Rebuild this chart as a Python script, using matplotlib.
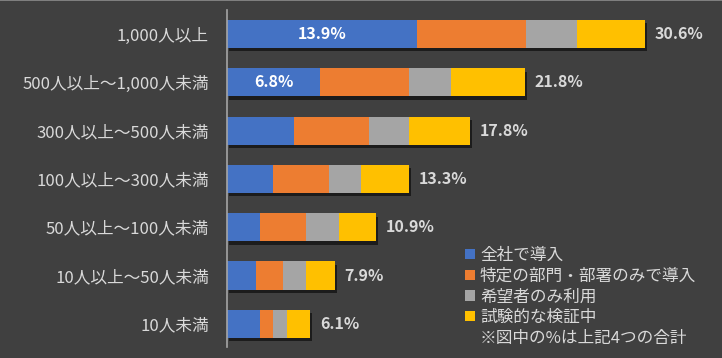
import matplotlib
matplotlib.use("Agg")
import matplotlib.pyplot as plt
import matplotlib.patheffects as pe
from matplotlib.patches import Patch
from matplotlib.lines import Line2D

plt.rcParams['font.family'] = ['Noto Sans CJK JP', 'DejaVu Sans']

# データ（上から順）
categories = ["1,000人以上", "500人以上～1,000人未満", "300人以上～500人未満",
              "100人以上～300人未満", "50人以上～100人未満", "10人以上～50人未満",
              "10人未満"]
zensha = [13.9, 6.8, 4.9, 3.4, 2.4, 2.1, 2.4]
bumon = [8.0, 6.5, 5.5, 4.1, 3.4, 2.0, 1.0]
kibou = [3.7, 3.1, 2.9, 2.3, 2.4, 1.7, 1.0]
shiken = [5.0, 5.4, 4.5, 3.5, 2.7, 2.1, 1.7]
totals = [30.6, 21.8, 17.8, 13.3, 10.9, 7.9, 6.1]
inside_labels = ["13.9%", "6.8%", "", "", "", "", ""]

series_names = ["全社で導入", "特定の部門・部署のみで導入", "希望者のみ利用", "試験的な検証中"]
colors = ["#4472C4", "#ED7D31", "#A5A5A5", "#FFC000"]
note = "※図中の%は上記4つの合計"

BG = "#404040"
TXT = "#D9D9D9"

fig = plt.figure(figsize=(7.22, 3.58), dpi=100, facecolor=BG)
ax = fig.add_axes([227 / 722, 11 / 358, 495 / 722, 337 / 358], facecolor=BG)

y = list(range(len(categories)))
left = [0.0] * len(categories)
shadow = [pe.SimplePatchShadow(offset=(1.5, -2.5), shadow_rgbFace="black", alpha=0.55),
          pe.Normal()]
for vals, col in zip([zensha, bumon, kibou, shiken], colors):
    bars = ax.barh(y, vals, left=left, height=0.58, color=col, linewidth=0)
    for b in bars:
        b.set_path_effects(shadow)
    left = [l + v for l, v in zip(left, vals)]

for i, lab in enumerate(inside_labels):
    if lab:
        ax.text(zensha[i] / 2, i, lab, ha="center", va="center", color="white",
                fontsize=11.5, fontweight="bold")

for i, t in enumerate(totals):
    ax.annotate(f"{t}%", xy=(left[i], i), xytext=(7, 0), textcoords="offset points",
                ha="left", va="center", color=TXT, fontsize=11.5, fontweight="bold")

ax.set_xlim(0, 495 / 13.66)
ax.set_ylim(-0.497 + 337 / 48.3, -0.497)
ax.set_yticks(y)
ax.set_yticklabels(categories, color=TXT, fontsize=12)
ax.tick_params(axis="y", length=0, pad=13)
ax.set_xticks([])
for s in ["top", "right", "bottom"]:
    ax.spines[s].set_visible(False)
ax.spines["left"].set_color("#A6A6A6")
ax.spines["left"].set_linewidth(1.2)

handles = [Patch(facecolor=c, edgecolor="none") for c in colors]
handles.append(Patch(facecolor="none", edgecolor="none"))
leg = fig.legend(handles, series_names + [note], loc="upper left",
                 bbox_to_anchor=(465 / 722, 1 - 247 / 358), frameon=False,
                 fontsize=12, handlelength=0.6, handleheight=0.6,
                 handletextpad=0.3, labelspacing=0.22, borderpad=0, borderaxespad=0)
for t in leg.get_texts():
    t.set_color(TXT)

# 上端の細い枠線
fig.add_artist(Line2D([0, 1], [0.999, 0.999], transform=fig.transFigure,
                      color="#8C8C8C", linewidth=1.2))

fig.savefig("out.png", dpi=100, facecolor=BG)
